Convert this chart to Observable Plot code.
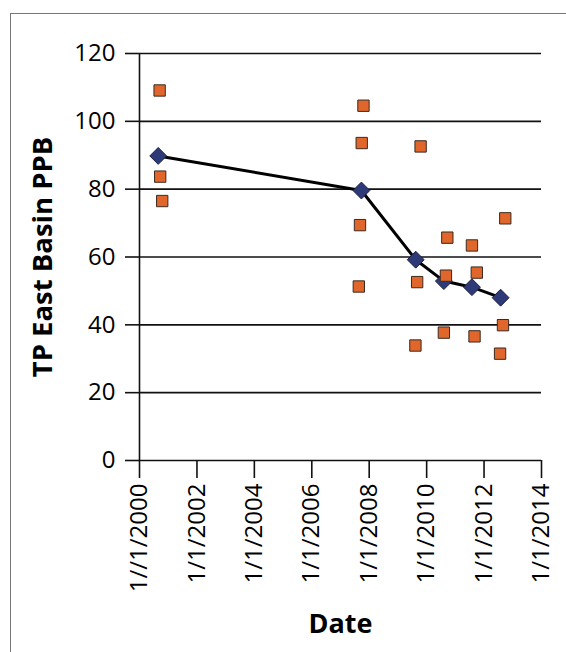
<!DOCTYPE html>
<html><head><meta charset="utf-8">
<script src="https://cdn.jsdelivr.net/npm/d3@7"></script>
<script src="https://cdn.jsdelivr.net/npm/@observablehq/plot@0.6"></script>
<style>
body{margin:0;background:#fff;overflow:hidden;width:566px;height:652px}
#frame{position:absolute;left:10px;top:13px;width:700px;height:800px;border:1.5px solid #777;box-sizing:border-box}
#chart{position:absolute;left:0;top:0}
</style></head><body><div id="frame"></div><div id="chart"></div>
<script>
// Mean TP per sampling event (line with diamonds)
const meanDates = ["2000-08-26","2007-09-24","2009-08-15","2010-08-08","2011-07-31","2012-07-30"];
const meanValues = [89.8, 79.6, 59.2, 52.9, 51.1, 48.0];
// Individual samples (orange squares)
const sampleDates = ["2000-09-13","2000-09-20","2000-10-16",
  "2007-10-20","2007-09-28","2007-09-06","2007-08-22",
  "2009-10-16","2009-09-02","2009-08-11",
  "2010-09-21","2010-09-03","2010-08-08",
  "2011-07-31","2011-10-01","2011-09-02",
  "2012-09-27","2012-08-29","2012-07-23"];
const sampleValues = [109.1, 83.7, 76.5,
  104.6, 93.6, 69.4, 51.3,
  92.6, 52.6, 33.9,
  65.7, 54.5, 37.7,
  63.4, 55.4, 36.6,
  71.4, 39.9, 31.5];
const tickYears = [2000, 2002, 2004, 2006, 2008, 2010, 2012, 2014];
const tickLabels = ["1//1/2000","1/1/2002","1/1/2004","1/1/2006","1/1/2008","1/1/2010","1/1/2012","1/1/2014"];
const yTicks = [0, 20, 40, 60, 80, 100, 120];

const parse = d3.utcParse("%Y-%m-%d");
const means = meanDates.map((d, i) => ({date: parse(d), value: meanValues[i]}));
const samples = sampleDates.map((d, i) => ({date: parse(d), value: sampleValues[i]}));
const xTicks = tickYears.map(y => new Date(Date.UTC(y, 0, 1)));
const labelOf = new Map(tickYears.map((y, i) => [y, tickLabels[i]]));
const x0 = xTicks[0], x1 = xTicks[xTicks.length - 1];

const chart = Plot.plot({
  width: 566, height: 652,
  marginLeft: 139, marginRight: 25, marginTop: 53, marginBottom: 192,
  style: {fontFamily: "'Open Sans', sans-serif", fontSize: "24px", color: "#000", background: "transparent", overflow: "visible"},
  x: {type: "utc", domain: [x0, x1]},
  y: {domain: [0, 120]},
  marks: [
    Plot.ruleY(yTicks, {x1: x0, x2: x1, stroke: "#111", strokeWidth: 1.6}),
    Plot.ruleX([x0], {y1: 0, y2: 120, stroke: "#111", strokeWidth: 1.6}),
    Plot.axisY({ticks: yTicks, tickSize: 14, tickPadding: 10, label: null, stroke: "#111", strokeWidth: 1.6, fill: "#000"}),
    Plot.axisX({ticks: xTicks, tickSize: 18, tickPadding: 5, tickRotate: -90, label: null,
      tickFormat: d => labelOf.get(d.getUTCFullYear()), stroke: "#111", strokeWidth: 1.6, fill: "#000"}),
    Plot.line(means, {x: "date", y: "value", stroke: "#000", strokeWidth: 3}),
    Plot.dot(means, {x: "date", y: "value", symbol: "diamond2", r: 7.6, fill: "#2e3a78", stroke: "#1a1f40", strokeWidth: 1}),
    Plot.dot(samples, {x: "date", y: "value", symbol: "square", r: 6.4, fill: "#e0662b", stroke: "#3a2a20", strokeWidth: 1}),
    Plot.text(["TP East Basin PPB"], {frameAnchor: "left", textAnchor: "middle", dx: -96, rotate: -90, fontWeight: "bold", fontSize: 27.5, fill: "#000"}),
    Plot.text(["Date"], {frameAnchor: "bottom", textAnchor: "middle", dy: 172, fontWeight: "bold", fontSize: 27, fill: "#000"})
  ]
});
document.getElementById("chart").append(chart);
</script>
</body></html>
